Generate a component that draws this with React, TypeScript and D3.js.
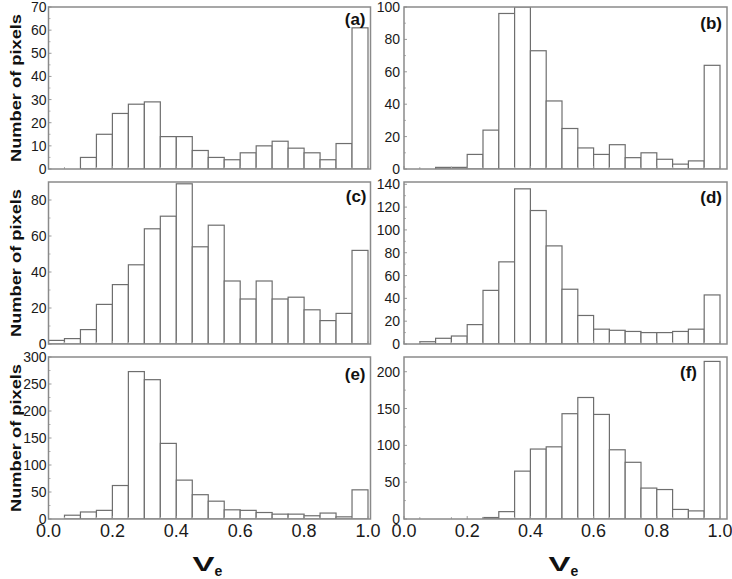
import * as d3 from 'd3';

// histogram bins (lower edge), bin width 0.05
const binStarts = [0, 0.05, 0.1, 0.15, 0.2, 0.25, 0.3, 0.35, 0.4, 0.45, 0.5, 0.55, 0.6, 0.65, 0.7, 0.75, 0.8, 0.85, 0.9, 0.95];
const binWidth = 0.05;

const countsA = [0, 0, 5, 15, 24, 28, 29, 14, 14, 8, 5, 4, 7, 10, 12, 9, 7, 4, 11, 61];
const countsB = [0, 0, 1, 1, 9, 24, 96, 100, 73, 42, 25, 13, 9, 15, 7, 10, 6, 3, 5, 64];
const countsC = [2, 3, 8, 22, 33, 44, 64, 71, 89, 54, 66, 35, 25, 35, 25, 26, 19, 13, 17, 52];
const countsD = [0, 2, 5, 7, 17, 47, 72, 136, 117, 86, 48, 25, 13, 12, 11, 10, 10, 11, 13, 43];
const countsE = [0, 7, 13, 16, 62, 273, 258, 140, 72, 45, 33, 17, 16, 12, 9, 9, 6, 11, 4, 54];
const countsF = [0, 0, 0, 0, 0, 2, 10, 65, 95, 98, 143, 165, 142, 94, 77, 42, 40, 13, 11, 214];

const ticksA = [0, 10, 20, 30, 40, 50, 60, 70];
const ticksB = [0, 20, 40, 60, 80, 100];
const ticksC = [0, 20, 40, 60, 80];
const ticksD = [0, 20, 40, 60, 80, 100, 120, 140];
const ticksE = [0, 50, 100, 150, 200, 250, 300];
const ticksF = [0, 50, 100, 150, 200];

const xTicks = [0, 0.2, 0.4, 0.6, 0.8, 1.0];
const panelNames = ['(a)', '(b)', '(c)', '(d)', '(e)', '(f)'];
const yTitle = 'Number of pixels';

// layout
const cols = [
  { x0: 48.5, x1: 368, right: 370.5, labelRight: 46.5 },
  { x0: 404, x1: 720, right: 727, labelRight: 400 },
];
const rows = [
  { top: 7, bottom: 169 },
  { top: 182, bottom: 344 },
  { top: 357, bottom: 519 },
];

const panels = [
  { counts: countsA, ticks: ticksA, yMax: 70, col: 0, row: 0, inset: 5, dy: 18 },
  { counts: countsB, ticks: ticksB, yMax: 100, col: 1, row: 0, inset: 5, dy: 22 },
  { counts: countsC, ticks: ticksC, yMax: 90, col: 0, row: 1, inset: 4, dy: 20 },
  { counts: countsD, ticks: ticksD, yMax: 142, col: 1, row: 1, inset: 5, dy: 21 },
  { counts: countsE, ticks: ticksE, yMax: 300, col: 0, row: 2, inset: 5, dy: 23 },
  { counts: countsF, ticks: ticksF, yMax: 220, col: 1, row: 2, inset: 30, dy: 21 },
];

const font = '"Liberation Sans", Arial, sans-serif';
const barStroke = '#6e6e6e';
const frameStroke = '#8a8a8a';

function Panel({ p, i }) {
  const c = cols[p.col];
  const r = rows[p.row];
  const x = d3.scaleLinear().domain([0, 1]).range([c.x0, c.x1]);
  const y = d3.scaleLinear().domain([0, p.yMax]).range([r.bottom, r.top]);
  const step = p.ticks[1] - p.ticks[0];
  const minor = d3.range(step / 2, p.yMax, step);
  const xMinor = d3.range(0.05, 1.0, 0.1);
  const clipId = `clip${i}`;

  return (
    <g>
      <clipPath id={clipId}>
        <rect x={c.x0} y={r.top} width={c.right - c.x0} height={r.bottom - r.top} />
      </clipPath>
      <g clipPath={`url(#${clipId})`}>
        {binStarts.map((b, k) =>
          p.counts[k] > 0 ? (
            <rect
              key={k}
              x={x(b)}
              y={y(p.counts[k])}
              width={x(b + binWidth) - x(b)}
              height={y(0) - y(p.counts[k])}
              fill="#fff"
              stroke={barStroke}
              strokeWidth={1.2}
            />
          ) : null,
        )}
      </g>
      {/* ticks point inward */}
      {p.ticks.map(t => (
        <line key={'yt' + t} x1={c.x0} x2={c.x0 + 3} y1={y(t)} y2={y(t)} stroke="#9a9a9a" strokeWidth={1} />
      ))}
      {minor.map(t => (
        <line key={'ym' + t} x1={c.x0} x2={c.x0 + 2} y1={y(t)} y2={y(t)} stroke="#b0b0b0" strokeWidth={1} />
      ))}
      {xTicks.map(t => (
        <line key={'xt' + t} x1={x(t)} x2={x(t)} y1={r.bottom} y2={r.bottom - 3} stroke="#9a9a9a" strokeWidth={1} />
      ))}
      {xMinor.map(t => (
        <line key={'xm' + t} x1={x(t)} x2={x(t)} y1={r.bottom} y2={r.bottom - 2} stroke="#b0b0b0" strokeWidth={1} />
      ))}
      <rect
        x={c.x0}
        y={r.top}
        width={c.right - c.x0}
        height={r.bottom - r.top}
        fill="none"
        stroke={frameStroke}
        strokeWidth={1.5}
      />
      {p.ticks.map(t => (
        <text
          key={'yl' + t}
          x={c.labelRight}
          y={y(t)}
          dy="0.36em"
          textAnchor="end"
          fontFamily={font}
          fontSize={14}
          fill="#1a1a1a"
        >
          {t}
        </text>
      ))}
      {p.row === 2 &&
        xTicks.map(t => (
          <text
            key={'xl' + t}
            x={x(t)}
            y={r.bottom + 18}
            textAnchor="middle"
            fontFamily={font}
            fontSize={18}
            fill="#1a1a1a"
          >
            {t.toFixed(1)}
          </text>
        ))}
      <text
        x={c.right - p.inset}
        y={r.top + p.dy}
        textAnchor="end"
        fontFamily={font}
        fontSize={17}
        fontWeight="bold"
        fill="#111"
      >
        {panelNames[i]}
      </text>
      {p.col === 0 && (
        <text
          transform={`translate(21, ${(r.top + r.bottom) / 2}) rotate(-90)`}
          textAnchor="middle"
          fontFamily={font}
          fontSize={15}
          fontWeight="bold"
          fill="#111"
          textLength={148}
          lengthAdjust="spacingAndGlyphs"
        >
          {yTitle}
        </text>
      )}
      {p.row === 2 && (
        <g>
          <text
            x={(c.x0 + c.right) / 2 - 17}
            y={571}
            fontFamily={font}
            fontSize={21}
            fontWeight="bold"
            fill="#111"
            textLength={22}
            lengthAdjust="spacingAndGlyphs"
          >
            V
          </text>
          <text
            x={(c.x0 + c.right) / 2 + 5}
            y={576}
            fontFamily={font}
            fontSize={14}
            fontWeight="bold"
            fill="#111"
          >
            e
          </text>
        </g>
      )}
    </g>
  );
}

export default function App() {
  return (
    <svg
      width={732}
      height={579}
      viewBox="0 0 732 579"
      style={{ position: 'absolute', left: 0, top: 0, background: '#fff' }}
    >
      <rect width={732} height={579} fill="#fff" />
      {panels.map((p, i) => (
        <Panel key={i} p={p} i={i} />
      ))}
    </svg>
  );
}
